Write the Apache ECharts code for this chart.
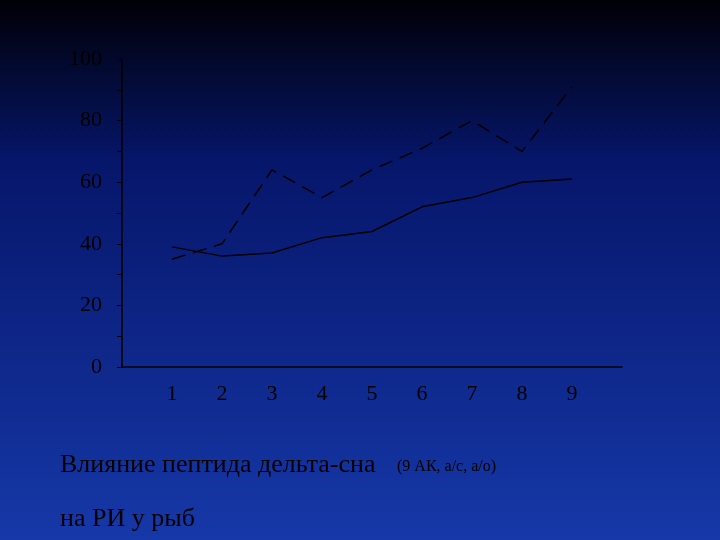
<!DOCTYPE html>
<html><head><meta charset="utf-8">
<script src="https://cdn.jsdelivr.net/npm/echarts@6/dist/echarts.min.js"></script>
<style>html,body{margin:0;padding:0}#c{width:720px;height:540px}</style>
</head><body><div id="c"></div>
<script>
// categories padded with empty slots at both ends, as in the original layout
const categories = ['','1','2','3','4','5','6','7','8','9',''];
const solidValues = [null,39,36,37,42,44,52,55,60,61,null];
const dashedValues = [null,35,40,64,55,64,71,80,70,91,null];
const yTicks = [0,20,40,60,80,100];

const chart = echarts.init(document.getElementById('c'));
const font = 'Liberation Serif';
chart.setOption({
  backgroundColor: {
    type: 'linear', x: 0, y: 0, x2: 0, y2: 1,
    colorStops: [{offset: 0, color: '#000006'}, {offset: 0.3, color: '#06166a'}, {offset: 1, color: '#1638a8'}]
  },
  grid: {left: 122, right: 98, top: 59, bottom: 173},
  xAxis: {
    type: 'category', data: categories, boundaryGap: false,
    axisLine: {lineStyle: {color: '#000', width: 1.5}},
    axisTick: {show: false},
    axisLabel: {color: '#000', fontFamily: font, fontSize: 22, margin: 16, interval: 0}
  },
  yAxis: {
    type: 'value', min: yTicks[0], max: yTicks[yTicks.length - 1], interval: 20,
    axisLine: {show: true, lineStyle: {color: '#000', width: 1.5}},
    axisTick: {show: true, length: 5, lineStyle: {color: '#000'}},
    minorTick: {show: true, splitNumber: 2, length: 5, lineStyle: {color: '#000'}},
    splitLine: {show: false},
    axisLabel: {color: '#000', fontFamily: font, fontSize: 22, margin: 20}
  },
  series: [
    {type: 'line', data: solidValues, symbol: 'none', lineStyle: {color: '#000', width: 1.5}},
    {type: 'line', data: dashedValues, symbol: 'none', lineStyle: {color: '#000', width: 1.5, type: [14, 8]}}
  ],
  graphic: [
    {type: 'text', left: 60, top: 452, style: {text: 'Влияние пептида дельта-сна', fill: '#000', font: '26px "Liberation Serif"'}},
    {type: 'text', left: 397, top: 459, style: {text: '(9 АК, а/с, а/о)', fill: '#000', font: '16px "Liberation Serif"'}},
    {type: 'text', left: 60, top: 506, style: {text: 'на РИ у рыб', fill: '#000', font: '26px "Liberation Serif"'}}
  ]
});
</script></body></html>
